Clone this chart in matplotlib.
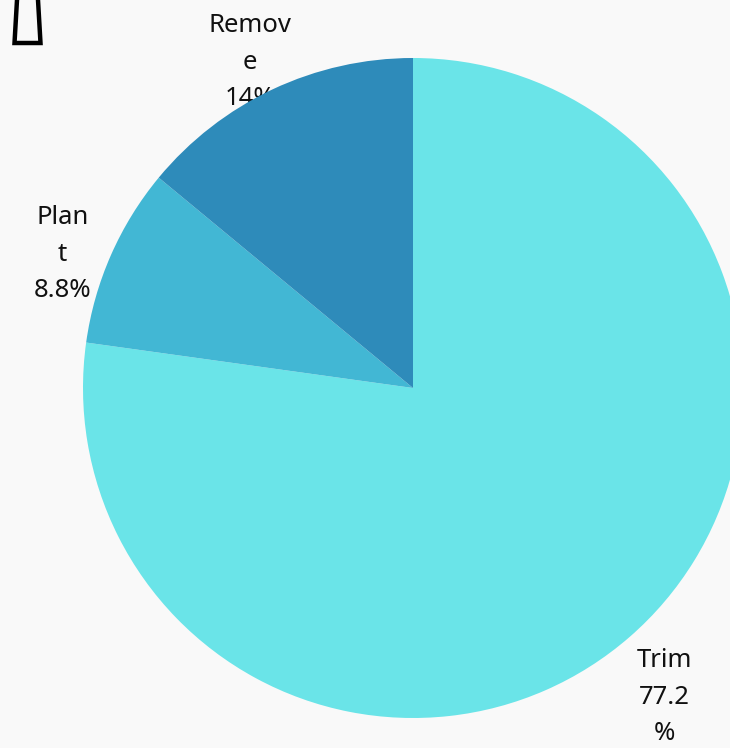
import matplotlib.pyplot as plt
import numpy as np

labels = ['Trim', 'Plant', 'Remove']
shares = [77.2, 8.8, 14.0]
label_texts = ['Trim\n77.2\n%', 'Plan\nt\n8.8%', 'Remov\ne\n14%']
colors = ['#6ae4e8', '#42b7d4', '#2e8bba']

plt.rcParams['font.family'] = ['Noto Sans', 'DejaVu Sans']

fig = plt.figure(figsize=(7.3, 7.48), dpi=100, facecolor='#f9f9f9')
ax = fig.add_axes([83 / 730, 30 / 748, 660 / 730, 660 / 748])
ax.set_facecolor('#f9f9f9')

wedges, texts = ax.pie(shares, labels=label_texts, colors=colors, startangle=90,
                       counterclock=False, labeldistance=1.16, radius=1.0,
                       textprops=dict(fontsize=18.5, color='#111111', linespacing=1.6))
for t in texts:
    t.set_ha('center')
    t.set_va('center')
    t.set_clip_on(False)
    t.set_zorder(0.5)  # labels sit under the wedges
    x, y = t.get_position()
    t.set_position((x, y - 0.062))
for w in wedges:
    w.set_clip_on(False)
ax.set_xlim(-1, 1)
ax.set_ylim(-1, 1)
ax.set_aspect('equal')
ax.axis('off')

# odd outlined glyph in the top-left corner
fig.add_artist(plt.Line2D([17, 14.5, 40.5, 38], [748, 705, 705, 748], transform=None,
                          color='black', lw=3.2, solid_joinstyle='miter'))

fig.savefig('out.png', dpi=100, facecolor=fig.get_facecolor())
